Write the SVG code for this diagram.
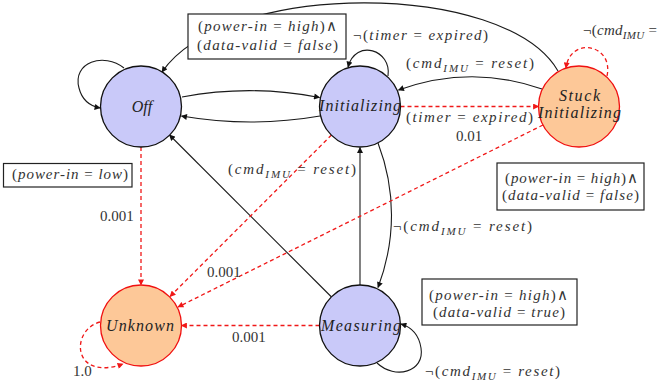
<svg xmlns="http://www.w3.org/2000/svg" width="659" height="383" viewBox="0 0 659 383">
  <style>
    text { font-family: "Liberation Serif", "DejaVu Serif", serif; font-size: 15px; fill: #333; }
    .i { font-style: italic; }
    .sub { font-style: italic; font-size: 11px; }
    .nodelabel { font-size: 16px; font-style: italic; fill: #222; text-anchor: middle; }
    .blue { fill: #c9c9f9; stroke: #111; stroke-width: 1.3; }
    .orange { fill: #fdc898; stroke: #f01010; stroke-width: 1.3; }
    .edge { fill: none; stroke: #1a1a1a; stroke-width: 1.1; marker-end: url(#arrowK); }
    .prob { fill: none; stroke: #f01818; stroke-width: 1.3; stroke-dasharray: 4 3; marker-end: url(#arrowR); }
    .guard { fill: #fff; stroke: #222; stroke-width: 1.2; }
  </style>
  <defs>
    <marker id="arrowK" viewBox="0 0 10 10" refX="9" refY="5" markerWidth="7" markerHeight="6" markerUnits="userSpaceOnUse" orient="auto">
      <path d="M0,0 L10,5 L0,10 z" fill="#111"/>
    </marker>
    <marker id="arrowR" viewBox="0 0 10 10" refX="9" refY="5" markerWidth="7" markerHeight="6" markerUnits="userSpaceOnUse" orient="auto">
      <path d="M0,0 L10,5 L0,10 z" fill="#f01818"/>
    </marker>
  </defs>

  <rect width="659" height="383" fill="#fff"/>

  <!-- transitions: solid = guarded, dashed red = fault probabilities -->
  <g id="connectors">
    <path class="edge" d="M124,68 C104,52 72,62 79,88 C82,100 90,106 100,108"/>
    <path class="edge" d="M182,97 Q251,84 319.5,97.5"/>
    <path class="edge" d="M320,116 Q251,128 181.5,116"/>
    <path class="edge" d="M388,76 C392,50 356,38 348,67"/>
    <path class="edge" d="M558,71 C505,-20 225,-20 162,72"/>
    <path class="edge" d="M542,89 Q471,64 398.5,90"/>
    <path class="edge" d="M331.5,297 L169.5,135"/>
    <path class="edge" d="M360,285 L360,147.5"/>
    <path class="edge" d="M378,143 C396,190 396,240 378,287.5"/>
    <path class="edge" d="M377,363 C395,380 425,372 421,348 C419,335 411,327 401,324"/>

    <path class="prob" d="M400.5,106.5 L538.5,106.5"/>
    <path class="prob" d="M607,76 C614,44 570,36 566,68"/>
    <path class="prob" d="M543,125 L178,307"/>
    <path class="prob" d="M331.5,135 L170,296.5"/>
    <path class="prob" d="M141,147 L141,285"/>
    <path class="prob" d="M319.5,325.5 L181.5,325.5"/>
    <path class="prob" d="M100,322 C70,330 72,382 123,364"/>
  </g>

  <!-- states -->
  <g id="off">
    <circle class="blue" cx="141" cy="106.5" r="40.5"/>
    <text class="nodelabel" x="142" y="112">Off</text>
  </g>
  <g id="initializing">
    <circle class="blue" cx="360" cy="106.5" r="40.5"/>
    <text class="nodelabel" x="360" y="111" textLength="82">Initializing</text>
  </g>
  <g id="stuck-initializing">
    <circle class="orange" cx="579" cy="106.5" r="40.5"/>
    <text class="nodelabel" x="579.5" y="101" textLength="41">Stuck</text>
    <text class="nodelabel" x="579.5" y="118" textLength="83">Initializing</text>
  </g>
  <g id="unknown">
    <circle class="orange" cx="141" cy="325.5" r="40.5"/>
    <text class="nodelabel" x="140" y="331" textLength="68">Unknown</text>
  </g>
  <g id="measuring">
    <circle class="blue" cx="360" cy="325.5" r="40.5"/>
    <text class="nodelabel" x="361" y="331" textLength="80">Measuring</text>
  </g>

  <!-- guard boxes -->
  <g id="guard-off">
    <rect class="guard" x="188" y="14" width="158" height="45"/>
    <text x="198" y="31" textLength="139">(<tspan class="i">power-in</tspan> = <tspan class="i">high</tspan>)∧</text>
    <text x="197" y="50" textLength="141">(<tspan class="i">data-valid</tspan> = <tspan class="i">false</tspan>)</text>
  </g>
  <g id="guard-low">
    <rect class="guard" x="3.5" y="163.5" width="128.5" height="23.5"/>
    <text x="12" y="179" textLength="116">(<tspan class="i">power-in</tspan> = <tspan class="i">low</tspan>)</text>
  </g>
  <g id="guard-stuck">
    <rect class="guard" x="497" y="163" width="147" height="47"/>
    <text x="505" y="183" textLength="133">(<tspan class="i">power-in</tspan> = <tspan class="i">high</tspan>)∧</text>
    <text x="502" y="200" textLength="137">(<tspan class="i">data-valid</tspan> = <tspan class="i">false</tspan>)</text>
  </g>
  <g id="guard-measuring">
    <rect class="guard" x="422" y="279" width="155" height="46"/>
    <text x="429" y="300" textLength="139">(<tspan class="i">power-in</tspan> = <tspan class="i">high</tspan>)∧</text>
    <text x="433" y="317" textLength="132">(<tspan class="i">data-valid</tspan> = <tspan class="i">true</tspan>)</text>
  </g>

  <!-- edge labels -->
  <g id="labels">
    <text x="353" y="40" textLength="135">¬(<tspan class="i">timer</tspan> = <tspan class="i">expired</tspan>)</text>
    <text x="406" y="68" textLength="128">(<tspan class="i">cmd</tspan><tspan class="sub" dy="4">IMU</tspan><tspan dy="-4"> = </tspan><tspan class="i">reset</tspan>)</text>
    <text x="406" y="122" textLength="127">(<tspan class="i">timer</tspan> = <tspan class="i">expired</tspan>)</text>
    <text x="456" y="141">0.01</text>
    <text x="583" y="35" textLength="74">¬(<tspan class="i">cmd</tspan><tspan class="sub" dy="4">IMU</tspan><tspan dy="-4"> =</tspan></text>
    <text x="228" y="174" textLength="128">(<tspan class="i">cmd</tspan><tspan class="sub" dy="4">IMU</tspan><tspan dy="-4"> = </tspan><tspan class="i">reset</tspan>)</text>
    <text x="393" y="231" textLength="139">¬(<tspan class="i">cmd</tspan><tspan class="sub" dy="4">IMU</tspan><tspan dy="-4"> = </tspan><tspan class="i">reset</tspan>)</text>
    <text x="425" y="376" textLength="135">¬(<tspan class="i">cmd</tspan><tspan class="sub" dy="4">IMU</tspan><tspan dy="-4"> = </tspan><tspan class="i">reset</tspan>)</text>
    <text x="100" y="221">0.001</text>
    <text x="207" y="277">0.001</text>
    <text x="232" y="342">0.001</text>
    <text x="73" y="376">1.0</text>
  </g>
</svg>
